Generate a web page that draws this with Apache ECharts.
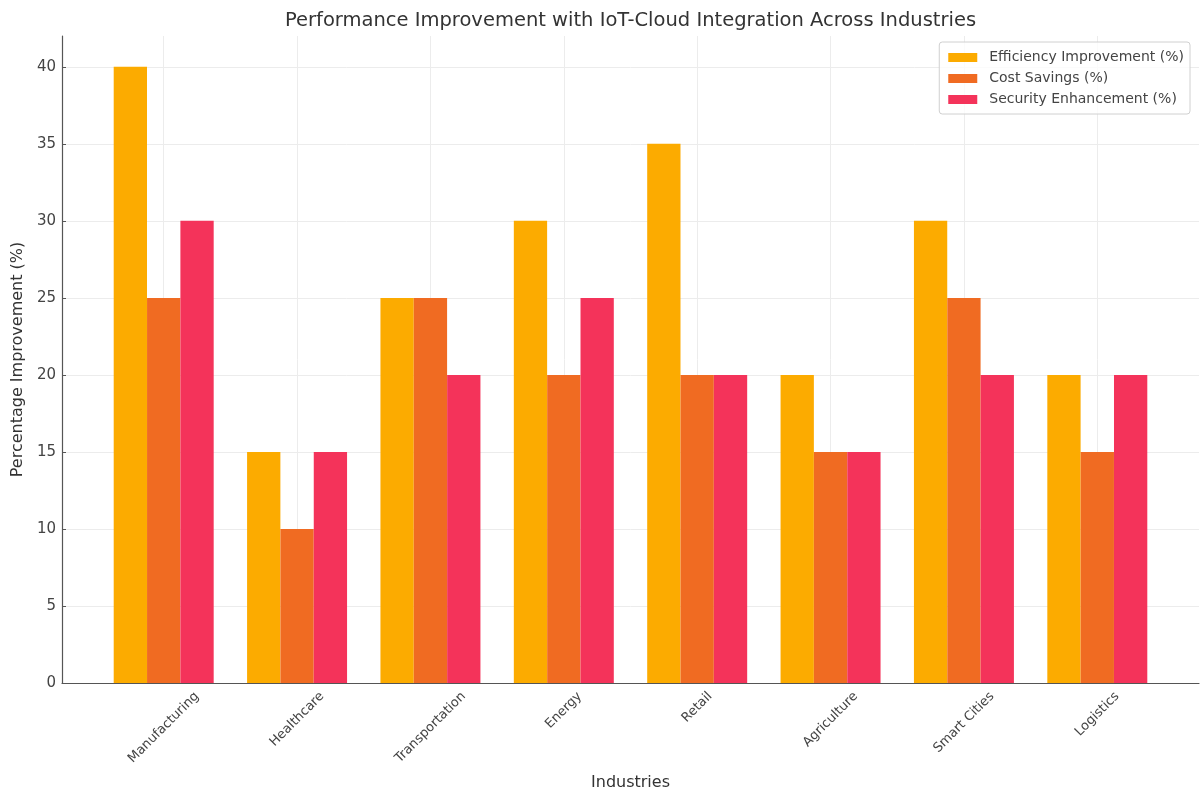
<!DOCTYPE html>
<html>
<head>
<meta charset="utf-8">
<script src="https://cdn.jsdelivr.net/npm/echarts@6/dist/echarts.min.js"></script>
<style>html,body{margin:0;padding:0;background:#fff;}#main{width:1201px;height:791px;}</style>
</head>
<body>
<div id="main"></div>
<script>
const categories = ['Manufacturing','Healthcare','Transportation','Energy','Retail','Agriculture','Smart Cities','Logistics'];
const efficiency = [40, 15, 25, 30, 35, 20, 30, 20];
const costSavings = [25, 10, 25, 20, 20, 15, 25, 15];
const security = [30, 15, 20, 25, 20, 15, 20, 20];
const seriesNames = ['Efficiency Improvement (%)','Cost Savings (%)','Security Enhancement (%)'];
const yTicks = [0, 5, 10, 15, 20, 25, 30, 35, 40];
const titleText = 'Performance Improvement with IoT-Cloud Integration Across Industries';

const colors = ['#FCAB00', '#F06B22', '#F4335A'];
const FONT = 'DejaVu Sans';
const barW = 0.25;
const idx = categories.map((c, i) => i);
const GRID_L = 62, GRID_R = 2, W = 1201;

// measure label lengths to emulate centered rotated labels
const LBL = 13;
const ctx = document.createElement('canvas').getContext('2d');
ctx.font = LBL + 'px "' + FONT + '"';
const rich = {};
categories.forEach((c, i) => {
  const L = ctx.measureText(c).width;
  const H = 15, P = 6;
  const d = P + 0.3536 * (L + H);
  const p = 1.4142 * d;
  rich['r' + i] = { fontSize: LBL, fontFamily: FONT, color: '#444', padding: [p, p, 0, 0] };
});
const TSIZE = 19.5;
ctx.font = TSIZE + 'px "' + FONT + '"';
const titleW = ctx.measureText(titleText).width;
const titleLeft = (GRID_L + (W - GRID_R)) / 2 - titleW / 2;

function mk(vals, k) {
  const off = (k - 1) * barW;
  return vals.map((v, i) => [i + off, v]);
}

const chart = echarts.init(document.getElementById('main'), null, { renderer: 'canvas' });
chart.setOption({
  animation: false,
  backgroundColor: '#fff',
  textStyle: { fontFamily: FONT },
  title: {
    text: titleText,
    left: titleLeft, top: 11, padding: 0,
    textStyle: { fontFamily: FONT, fontSize: TSIZE, fontWeight: 'normal', color: '#333' }
  },
  legend: {
    orient: 'vertical', right: 11, top: 42,
    itemWidth: 29, itemHeight: 9, itemGap: 4,
    padding: [7, 6, 6, 9],
    borderColor: '#d0d0d0', borderWidth: 1, borderRadius: 3,
    backgroundColor: 'rgba(255,255,255,0.8)',
    icon: 'rect',
    textStyle: { fontFamily: FONT, fontSize: 14, color: '#444', lineHeight: 17, padding: [0, 0, 0, 7] },
    data: seriesNames
  },
  grid: { left: GRID_L, right: GRID_R, top: 36, bottom: 108, containLabel: false, outerBoundsMode: 'none' },
  xAxis: {
    type: 'value', min: -0.7625, max: 7.7625,
    name: 'Industries', nameLocation: 'middle', nameGap: 92,
    nameTextStyle: { fontFamily: FONT, fontSize: 16, color: '#333' },
    axisLine: { show: true, onZero: false, lineStyle: { color: '#555', width: 1.2 } },
    axisTick: { show: true, inside: true, customValues: idx, length: 4, lineStyle: { color: '#555' } },
    axisLabel: {
      customValues: idx, rotate: 45, margin: 0,
      align: 'center', verticalAlign: 'middle',
      formatter: v => '{r' + Math.round(v) + '|' + categories[Math.round(v)] + '}',
      rich: rich
    },
    splitLine: { show: true, lineStyle: { color: '#ececec', width: 1 } }
  },
  yAxis: {
    type: 'value', min: 0, max: 42,
    name: 'Percentage Improvement (%)', nameLocation: 'middle', nameGap: 34,
    nameTextStyle: { fontFamily: FONT, fontSize: 16, color: '#333' },
    axisLine: { show: true, onZero: false, lineStyle: { color: '#555', width: 1.2 } },
    axisTick: { show: true, inside: true, customValues: yTicks, length: 4, lineStyle: { color: '#555' } },
    axisLabel: { customValues: yTicks, fontFamily: FONT, fontSize: 15, color: '#444', margin: 6 },
    splitLine: { show: true, lineStyle: { color: '#ececec', width: 1 } }
  },
  series: [
    { name: seriesNames[0], type: 'bar', data: mk(efficiency, 0), barWidth: 33.3, barGap: '-100%', itemStyle: { color: colors[0] } },
    { name: seriesNames[1], type: 'bar', data: mk(costSavings, 1), barWidth: 33.3, barGap: '-100%', itemStyle: { color: colors[1] } },
    { name: seriesNames[2], type: 'bar', data: mk(security, 2), barWidth: 33.3, barGap: '-100%', itemStyle: { color: colors[2] } }
  ]
});
</script>
</body>
</html>
